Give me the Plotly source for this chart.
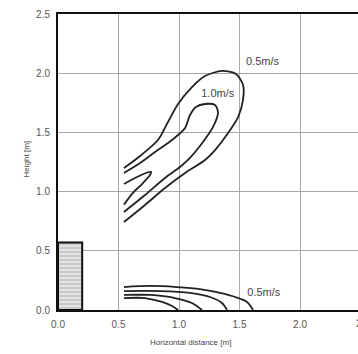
import plotly.graph_objects as go

# axis ticks
x_ticks = [0.0, 0.5, 1.0, 1.5, 2.0]
y_ticks = [0.0, 0.5, 1.0, 1.5, 2.0, 2.5]

# inlet box (hatched)
box_x = [0.0, 0.2, 0.2, 0.0, 0.0]
box_y = [0.0, 0.0, 0.57, 0.57, 0.0]

# upper plume: outer 0.5 m/s contour
plume_05_x = [0.545, 0.719, 0.884, 1.050, 1.215, 1.298, 1.405, 1.488, 1.529, 1.529,
              1.471, 1.355, 1.215, 1.107, 0.992, 0.909, 0.826, 0.678, 0.545]
plume_05_y = [0.743, 0.887, 1.030, 1.157, 1.267, 1.351, 1.495, 1.630, 1.774, 1.900,
              1.993, 2.019, 1.976, 1.883, 1.740, 1.588, 1.436, 1.301, 1.199]

# upper plume: 1.0 m/s contour
plume_10_x = [0.545, 0.719, 0.884, 1.008, 1.074, 1.198, 1.281, 1.322, 1.298, 1.215,
              1.140, 1.091, 1.050, 0.992, 0.909, 0.802, 0.678, 0.545]
plume_10_y = [0.828, 0.971, 1.115, 1.208, 1.267, 1.419, 1.546, 1.664, 1.731, 1.740,
              1.715, 1.647, 1.537, 1.478, 1.410, 1.334, 1.242, 1.157]

# upper plume: small inner tongue
plume_in_x = [0.545, 0.619, 0.694, 0.760, 0.769, 0.727, 0.636, 0.545]
plume_in_y = [0.890, 0.990, 1.064, 1.140, 1.166, 1.157, 1.115, 1.064]

# floor jet contours
floor_1_x = [0.545, 0.760, 0.983, 1.174, 1.339, 1.463, 1.562, 1.612]
floor_1_y = [0.194, 0.203, 0.194, 0.177, 0.144, 0.110, 0.068, 0.0]
floor_2_x = [0.545, 0.843, 1.091, 1.256, 1.355, 1.397]
floor_2_y = [0.160, 0.160, 0.144, 0.110, 0.059, 0.0]
floor_3_x = [0.545, 0.760, 0.967, 1.107, 1.190]
floor_3_y = [0.127, 0.127, 0.101, 0.059, 0.0]
floor_4_x = [0.545, 0.719, 0.860, 0.942, 0.992]
floor_4_y = [0.101, 0.101, 0.068, 0.034, 0.0]

# contour labels
label_text = ["0.5m/s", "1.0m/s", "0.5m/s"]
label_x = [1.69, 1.32, 1.70]
label_y = [2.09, 1.82, 0.14]

font = "Liberation Sans, Arial, sans-serif"
line_color = "#222222"

fig = go.Figure()

fig.add_trace(go.Scatter(
    x=box_x, y=box_y, mode="lines", fill="toself",
    fillcolor="#dcdcdc",
    fillpattern=dict(shape="-", fgcolor="#9a9a9a", bgcolor="#e2e2e2", size=4, solidity=0.35),
    line=dict(color="#111111", width=2),
))

for xs, ys in [(plume_05_x, plume_05_y), (plume_10_x, plume_10_y), (plume_in_x, plume_in_y),
               (floor_1_x, floor_1_y), (floor_2_x, floor_2_y),
               (floor_3_x, floor_3_y), (floor_4_x, floor_4_y)]:
    fig.add_trace(go.Scatter(x=xs, y=ys, mode="lines", line=dict(color=line_color, width=1.8, shape="spline", smoothing=0.8)))

fig.add_trace(go.Scatter(
    x=label_x, y=label_y, mode="text", text=label_text,
    textfont=dict(family=font, size=11, color="#444444"),
))

fig.update_layout(
    width=358, height=354,
    margin=dict(l=58, r=0, t=14, b=44),
    paper_bgcolor="white", plot_bgcolor="white",
    showlegend=False,
    font=dict(family=font, size=10, color="#555555"),
)

fig.update_xaxes(
    range=[0, 2.479], tickvals=x_ticks, ticktext=["%.1f" % v for v in x_ticks],
    showgrid=True, gridcolor="#a8a8a8", gridwidth=1, zeroline=False,
    showline=True, linecolor="#111111", linewidth=2, mirror=True,
    ticks="", ticklabelstandoff=4,
)
fig.update_yaxes(
    range=[0, 2.5], tickvals=y_ticks, ticktext=["%.1f" % v for v in y_ticks],
    showgrid=True, gridcolor="#a8a8a8", gridwidth=1, zeroline=False,
    showline=True, linecolor="#111111", linewidth=2,
    ticks="", ticklabelstandoff=4,
)

# cut-off tick label at the right edge, as in the source image
fig.add_annotation(text="2.5", xref="paper", yref="paper", x=0.985, y=-0.045,
                   xanchor="left", yanchor="middle", showarrow=False,
                   font=dict(family=font, size=10, color="#555555"))

fig.add_annotation(text="Horizontal distance [m]", xref="paper", yref="paper",
                   x=0.443, y=-0.11, yanchor="middle", showarrow=False,
                   font=dict(family=font, size=8, color="#444444"))
fig.add_annotation(text="Height [m]", xref="paper", yref="paper",
                   x=-0.127, y=0.51, textangle=-90, showarrow=False,
                   font=dict(family=font, size=8, color="#444444"))

# remove the default page margin so the figure sits at the window corner
fig.write_html("out.html", config={"displayModeBar": False},
               post_script="document.body.style.margin='0px';")
